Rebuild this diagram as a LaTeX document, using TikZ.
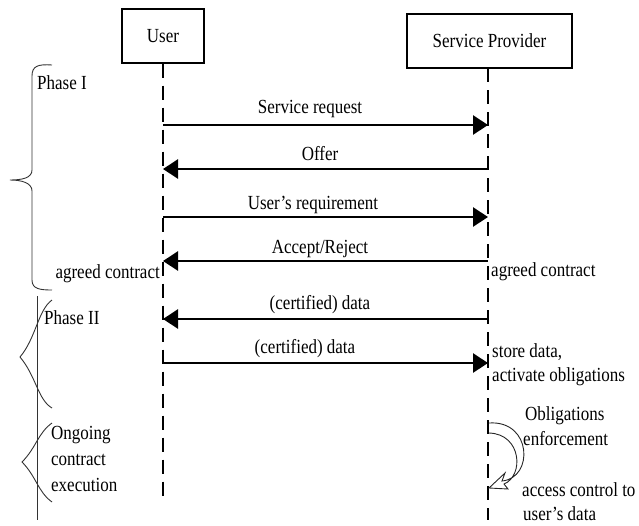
\documentclass[tikz,border=0pt]{standalone}
\usepackage{fontspec}
\setmainfont[FakeStretch=0.85]{Liberation Serif}
\usetikzlibrary{arrows.meta}

\tikzset{
  party/.style={draw, line width=1.4pt, minimum height=54pt, inner sep=0pt},
  lifeline/.style={line width=2.8pt, dash pattern=on 14pt off 8pt},
  msg/.style={line width=2.8pt, -{Triangle[length=15pt,width=19pt]}},
  msglabel/.style={inner sep=1pt, anchor=base},
  note/.style={inner sep=0pt, anchor=base west},
  bracecurve/.style={line width=0.9pt, draw=black!80},
}

\begin{document}
\begin{tikzpicture}[x=1pt, y=-1pt, font=\fontsize{20}{25.5}\selectfont]
\useasboundingbox (0,0) rectangle (639,525);

% participants
\node[party, minimum width=82pt]  (user) at (163,36) {User};
\node[party, minimum width=165pt] (sp)   at (489.5,41) {Service Provider};

% lifelines
\coordinate (uend) at (163,500);
\coordinate (stop) at (488,68);
\coordinate (send) at (488,520);
\draw[lifeline] (user.south) -- (uend);
\draw[lifeline] (stop) -- (send);

% message anchor points on the lifelines
\foreach \n/\y in {1/125,2/169,3/217,4/261,5/319,6/363} {
  \coordinate (u\n) at (163,\y);
  \coordinate (s\n) at (488,\y);
}

% messages
\draw[msg] (u1) -- (s1);
\draw[msg] (s2) -- (u2);
\draw[msg] (u3) -- (s3);
\draw[msg] (s4) -- (u4);
\draw[msg] (s5) -- (u5);
\draw[msg] (u6) -- (s6);

\node[msglabel] (l1) at (310,113) {Service request};
\node[msglabel] (l2) at (320,160) {Offer};
\node[msglabel] (l3) at (313,209) {User’s requirement};
\node[msglabel] (l4) at (320,253) {Accept/Reject};
\node[msglabel] (l5) at (320,309) {(certified) data};
\node[msglabel] (l6) at (305,353) {(certified) data};

% annotations
\node[inner sep=0pt, anchor=base east] (agl) at (160,278) {agreed contract};
\node[note] (agr) at (491,276) {agreed contract};
\node[note] (store1) at (492,357) {store data,};
\node[note] (store2) at (492,381) {activate obligations};
\node[note] (oblig1) at (525,420) {Obligations};
\node[note] (oblig2) at (523,445) {enforcement};
\node[note] (acc1) at (522,496) {access control to};
\node[note] (acc2) at (523,520) {user’s data};

% phase labels
\node[note] (ph1) at (37,89) {Phase I};
\node[note] (ph2) at (44,324) {Phase II};
\node[note] (ph3a) at (51,439) {Ongoing};
\node[note] (ph3b) at (51,465) {contract};
\node[note] (ph3c) at (51,491) {execution};

% phase braces
\draw[bracecurve] (52,65) .. controls (38,64) and (32,66) .. (32,76) -- (32,170)
  .. controls (32,178) and (22,180) .. (10,180)
  .. controls (22,180) and (32,183) .. (32,191) -- (32,280)
  .. controls (32,289) and (40,290) .. (52,290);
\draw[bracecurve] (37,296) -- (37,520);
\draw[bracecurve] (52,300) .. controls (38,310) and (36,338) .. (20,357)
  .. controls (36,376) and (38,400) .. (52,408);
\draw[bracecurve] (52,423) .. controls (38,433) and (36,448) .. (22,462)
  .. controls (36,476) and (38,492) .. (52,502);

% hollow curved arrow for obligations enforcement
\draw[line width=0.9pt, draw=black!85]
  (489,423) .. controls (532,420) and (534,478) .. (502,481)
  -- (505,473) -- (489,488) -- (508,489) -- (504,484)
  .. controls (524,476) and (522,434) .. (489,433);

\end{tikzpicture}
\end{document}
